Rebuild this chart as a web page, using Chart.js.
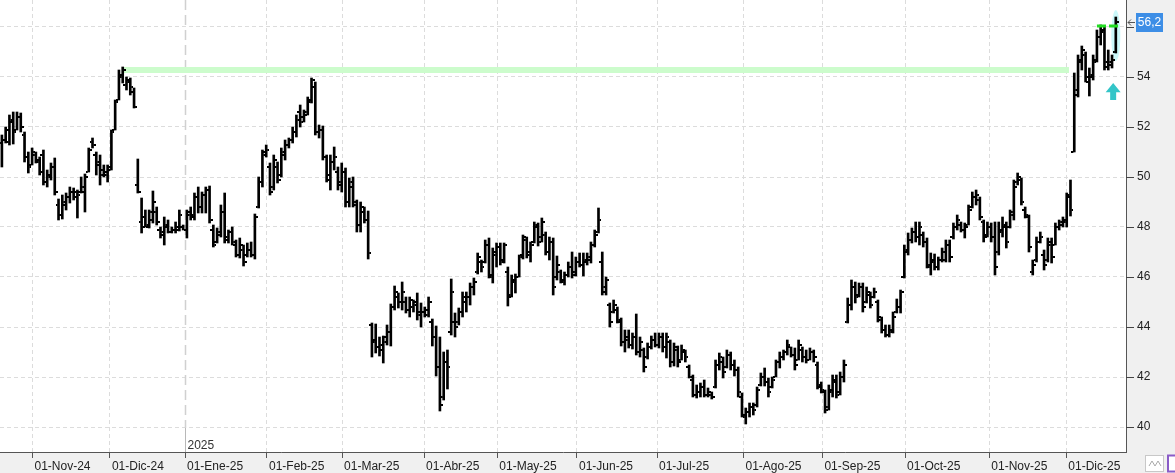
<!DOCTYPE html>
<html>
<head>
<meta charset="utf-8">
<script src="https://cdn.jsdelivr.net/npm/chart.js@4/dist/chart.umd.min.js"></script>
<style>
  html, body { margin: 0; padding: 0; background: #f0f0f0; }
  #wrap { width: 1175px; height: 473px; }
</style>
</head>
<body>
<div id="wrap"><canvas id="chart" width="1175" height="473"></canvas></div>
<script>
// daily OHLC, one entry per trading day (index 0 = 22-Oct-24)
const highs = [
  51.68,52.00,52.48,52.60,52.60,52.56,51.80,51.00,51.16,51.00,
  50.80,51.08,50.28,50.56,50.76,49.12,49.28,49.36,49.60,49.56,
  49.48,50.00,50.12,51.16,51.56,51.00,50.88,50.48,50.48,51.88,
  53.08,54.28,54.40,54.00,53.96,53.56,50.72,49.16,48.68,48.68,
  49.44,48.80,48.00,48.40,48.28,48.00,48.20,48.68,48.08,48.68,
  48.80,49.36,49.60,49.40,49.60,49.64,48.08,47.96,48.88,49.36,
  47.88,48.00,47.48,47.56,47.28,47.36,47.40,48.52,50.00,51.08,
  51.28,50.56,50.88,50.60,51.16,51.48,51.56,52.00,52.48,52.88,
  52.68,53.20,53.96,53.80,52.08,52.04,50.88,50.88,51.20,50.40,
  50.56,50.36,49.96,50.00,49.08,49.00,48.80,48.64,44.16,44.12,
  43.60,43.64,44.08,44.92,45.64,45.36,45.80,45.20,45.20,45.08,
  45.36,44.96,44.80,45.20,44.32,44.04,43.60,43.00,43.08,45.92,
  44.56,44.76,45.40,45.40,45.76,45.96,46.96,46.68,47.48,47.56,
  47.16,47.36,47.36,47.36,46.40,46.08,46.12,46.88,47.68,47.60,
  47.40,48.20,48.16,48.36,47.80,47.60,47.56,46.84,46.28,46.20,
  46.60,47.00,46.80,46.96,46.96,46.96,47.40,47.88,48.76,47.00,
  46.00,44.96,45.08,44.80,44.36,43.88,43.88,43.76,44.52,43.60,
  43.16,43.36,43.64,43.76,43.76,43.76,43.76,43.48,43.36,43.24,
  43.28,43.08,42.48,42.08,41.68,41.76,41.88,41.56,41.40,42.68,
  42.96,42.80,43.08,43.00,42.68,42.40,41.36,40.76,40.96,40.96,
  41.60,42.16,42.36,41.96,42.00,42.68,43.00,43.08,43.48,43.20,
  43.16,43.48,43.20,43.08,43.16,43.08,42.60,41.80,41.48,41.68,
  42.08,42.08,42.20,42.68,45.16,45.88,45.80,45.76,45.76,45.60,
  45.40,45.56,45.08,44.40,44.08,44.08,44.60,45.12,45.48,47.28,
  47.76,47.96,48.20,48.20,47.80,47.56,46.96,46.92,46.80,47.16,
  47.48,47.48,48.16,48.48,48.20,48.16,48.88,49.40,49.48,49.20,
  48.28,48.20,48.16,48.20,48.20,48.40,48.20,48.68,49.88,50.16,
  49.96,48.80,48.48,46.68,47.60,47.80,47.08,47.56,47.56,48.16,
  48.28,48.40,49.36,49.88,54.16,54.88,55.24,55.00,54.36,54.88,
  55.88,56.08,56.00,55.08,54.88,56.40
];
const lows = [
  50.40,51.36,51.28,51.32,51.88,51.80,50.60,50.16,50.48,50.56,
  50.08,49.68,49.60,49.88,49.28,48.28,48.32,48.68,48.96,49.08,
  48.36,49.36,48.60,50.20,51.16,50.08,49.68,50.00,49.80,50.28,
  51.88,53.08,53.76,53.48,53.28,52.76,49.36,47.76,48.00,47.96,
  48.16,48.08,47.56,47.28,47.76,47.76,47.76,47.84,47.88,47.56,
  48.28,48.28,48.56,48.56,48.56,48.16,47.20,47.36,47.60,47.36,
  47.36,47.28,46.80,46.76,46.44,46.80,46.80,46.72,48.76,49.60,
  50.80,49.28,49.48,49.76,50.00,50.68,51.16,51.36,51.60,52.00,
  52.20,52.48,52.96,51.68,51.56,50.68,49.80,49.48,50.28,49.48,
  49.40,48.80,48.80,48.80,47.80,47.80,48.16,46.72,42.80,42.96,
  42.84,42.56,43.28,43.24,44.68,44.76,44.68,44.56,44.40,44.60,
  44.28,44.00,44.40,44.40,43.24,42.04,40.64,41.08,41.52,43.68,
  43.60,44.08,44.40,44.60,44.88,45.28,46.12,46.20,46.56,45.96,
  45.76,46.40,46.48,46.56,44.84,45.20,45.36,46.00,46.72,46.76,
  46.60,47.36,47.24,47.40,46.88,46.68,45.28,45.88,45.76,45.68,
  46.00,45.96,46.04,46.40,46.04,46.48,46.56,47.20,47.76,45.28,
  45.28,44.00,44.56,44.16,43.24,43.00,43.16,43.12,42.88,42.80,
  42.20,42.72,43.12,43.20,43.16,43.00,42.76,42.40,42.44,42.40,
  42.68,42.60,41.96,41.20,41.16,41.20,41.20,41.20,41.12,41.56,
  42.28,41.96,42.36,42.28,42.04,41.20,40.40,40.12,40.40,40.48,
  40.80,41.64,41.64,41.20,41.56,42.00,42.36,42.68,42.88,42.80,
  42.28,42.68,42.60,42.56,42.68,42.60,41.52,41.36,40.56,40.68,
  41.20,41.16,41.28,41.80,44.16,44.68,44.96,45.20,44.60,44.96,
  44.76,45.16,44.20,43.76,43.60,43.60,43.76,44.56,44.56,45.96,
  46.88,47.36,47.40,47.28,47.20,46.36,46.08,46.28,46.28,46.60,
  46.60,46.60,47.52,47.88,47.80,47.56,48.08,48.76,48.88,48.28,
  47.40,47.60,47.40,46.08,46.88,47.60,47.16,47.96,48.28,49.68,
  48.88,48.36,47.00,46.08,46.60,47.36,46.28,46.60,46.56,47.28,
  47.88,48.00,48.00,48.44,51.00,53.20,54.28,53.80,53.24,53.88,
  54.60,55.28,54.28,54.28,54.36,54.96
];
const opens = [
  51.36,51.50,51.40,52.20,51.90,52.40,51.70,50.80,50.50,50.90,
  50.60,50.90,49.80,50.10,50.40,48.90,48.50,48.90,49.20,49.40,
  49.40,49.40,49.40,50.20,51.40,50.90,50.50,50.30,50.10,50.30,
  51.90,53.10,54.00,53.70,53.90,53.40,49.70,48.20,48.40,48.00,
  48.30,48.60,47.90,47.70,48.00,47.80,47.90,47.90,48.00,47.90,
  48.50,48.50,49.20,48.80,49.30,49.50,47.90,47.40,47.70,48.60,
  47.60,47.80,47.30,46.90,47.10,46.90,47.10,46.90,48.80,49.80,
  51.00,50.40,49.60,50.40,50.10,50.90,51.30,51.50,51.80,52.60,
  52.40,52.60,53.00,53.60,51.80,51.90,50.80,49.90,50.60,50.20,
  49.80,50.20,49.00,49.60,48.90,48.10,48.60,48.30,44.10,43.40,
  43.20,43.10,43.60,43.80,44.80,45.20,45.00,45.00,44.70,44.80,
  45.00,44.60,44.60,44.50,44.20,43.60,42.40,41.20,42.60,43.80,
  44.20,44.20,44.60,45.00,45.20,45.60,46.20,46.60,46.60,47.30,
  46.00,46.90,47.20,46.70,46.20,45.30,45.80,46.00,46.90,47.50,
  46.90,47.40,48.00,47.60,47.70,47.00,47.40,46.00,46.20,45.80,
  46.10,46.40,46.20,46.60,46.50,46.60,46.70,47.30,47.80,46.60,
  45.40,44.90,44.60,44.70,44.20,43.40,43.50,43.30,43.60,43.00,
  43.10,42.80,43.20,43.50,43.30,43.60,43.20,43.40,42.60,43.10,
  42.70,43.00,42.40,41.90,41.30,41.40,41.60,41.30,41.30,41.60,
  42.50,42.60,42.40,42.90,42.50,42.30,41.20,40.40,40.60,40.80,
  40.90,41.70,42.00,41.80,41.60,42.00,42.60,42.80,43.00,43.20,
  42.90,42.70,43.10,42.80,42.70,43.00,42.50,41.60,41.40,40.80,
  41.40,41.90,41.40,42.00,44.20,44.90,45.60,45.30,45.60,45.00,
  45.30,45.20,45.00,44.30,43.90,43.70,43.90,44.60,44.80,46.00,
  47.00,47.50,47.80,47.60,47.70,47.40,46.40,46.60,46.40,46.70,
  46.70,47.30,47.60,48.00,48.10,47.90,48.10,48.80,49.20,49.10,
  48.20,47.70,48.00,47.60,47.00,47.80,48.00,48.00,48.60,49.80,
  49.90,48.70,48.40,46.20,46.70,47.40,46.90,46.70,47.30,47.30,
  48.00,48.10,48.20,49.30,51.00,53.30,54.60,54.90,53.80,54.00,
  54.70,55.60,55.80,54.40,54.50,55.00
];
const closes = [
  51.50,51.90,52.30,51.80,52.40,52.00,50.80,50.40,51.00,50.70,
  50.20,49.80,50.00,50.40,49.40,48.50,49.00,49.20,49.40,49.20,
  49.30,49.60,50.00,51.10,51.30,50.60,50.10,50.20,50.40,51.80,
  53.00,54.10,54.30,53.80,53.60,52.80,49.40,48.00,48.10,48.60,
  49.00,48.20,47.80,48.10,47.80,47.90,48.00,48.50,47.90,48.60,
  48.40,49.20,48.80,49.30,49.50,48.30,47.30,47.80,48.60,47.50,
  47.80,47.40,46.90,47.30,46.60,47.10,46.90,48.40,49.80,50.90,
  51.10,49.40,50.70,49.90,51.00,51.30,51.50,51.80,52.30,52.20,
  52.50,53.10,53.90,51.80,51.90,50.80,50.10,50.60,50.80,49.70,
  50.20,49.00,49.80,49.00,48.10,48.80,48.30,46.96,43.50,43.20,
  43.30,43.40,43.80,44.80,45.40,45.00,45.40,44.70,45.10,44.90,
  44.50,44.60,44.70,45.00,43.60,42.40,40.90,42.60,42.40,45.40,
  44.00,44.60,45.20,45.20,45.60,45.80,46.80,46.40,47.30,46.10,
  47.00,47.20,46.60,47.30,45.20,45.90,46.00,46.80,47.60,47.00,
  47.30,48.10,47.40,48.20,47.00,47.40,45.60,46.50,45.90,46.10,
  46.40,46.10,46.60,46.50,46.70,46.80,47.30,47.70,48.30,45.60,
  45.90,44.20,44.90,44.30,43.40,43.60,43.30,43.60,43.00,43.40,
  42.40,43.20,43.50,43.30,43.60,43.20,43.60,42.60,43.20,42.60,
  43.10,42.80,42.00,41.30,41.40,41.60,41.30,41.40,41.20,42.50,
  42.80,42.20,42.90,42.50,42.30,41.40,40.50,40.60,40.80,40.70,
  41.50,42.00,41.80,41.40,41.90,42.60,42.80,43.00,43.30,42.90,
  42.50,43.30,42.80,42.70,43.00,42.80,41.70,41.50,40.70,41.50,
  41.80,41.30,42.00,42.50,44.90,45.60,45.20,45.60,44.80,45.40,
  44.90,45.40,44.40,43.90,43.70,43.80,44.40,44.80,45.40,47.10,
  47.50,47.80,47.60,48.00,47.40,46.50,46.70,46.40,46.70,47.00,
  47.30,46.80,48.00,48.30,47.90,48.00,48.70,49.20,49.30,48.40,
  47.60,48.00,47.60,46.40,47.90,48.10,47.40,48.50,49.60,50.00,
  49.00,48.50,47.20,46.50,47.40,47.60,46.50,47.40,46.80,48.00,
  48.20,48.30,49.20,48.70,53.48,54.70,55.10,54.00,54.10,54.60,
  55.60,55.90,54.60,54.60,54.70,56.20
];

// x-axis: month labels and where each month starts (in trading-day index units)
const monthLabels = ['01-Nov-24','01-Dic-24','01-Ene-25','01-Feb-25','01-Mar-25','01-Abr-25','01-May-25',
                     '01-Jun-25','01-Jul-25','01-Ago-25','01-Sep-25','01-Oct-25','01-Nov-25','01-Dic-25'];
const monthTickPos = [8.1, 28.6, 48.5, 70.2, 90.1, 111.8, 131.2, 152.3, 173.5, 196.4, 217.3, 239.2, 261.5, 281.9];
const yearLabel = '2025';
const yearTickIndex = 2;

// y-axis: labelled levels, minor tick step
const yLabelValues = [40, 42, 44, 46, 48, 50, 52, 54, 56];
const yMinorStep = 0.4;

// drawn objects
const resistance = { level: 54.28, from: 32, to: 282.6 };
const targetSegs = [ { level: 56.04, from: 290.0, to: 292.4 }, { level: 56.04, from: 293.2, to: 295.6 } ];
const lastPrice = 56.2;
const lastPriceText = '56,2';
const signal = { index: 294.3, top: 53.76, bottom: 53.08 };

const FONT = "'Liberation Sans', Arial, sans-serif";
Chart.defaults.font.family = FONT;
Chart.defaults.font.size = 12;
Chart.defaults.color = '#222';

function tickImage(side) {
  const c = document.createElement('canvas');
  c.width = 6; c.height = 2;
  const g = c.getContext('2d');
  g.fillStyle = '#000';
  g.fillRect(side === 'open' ? 0 : 4, 0, 2, 2);
  return c;
}

const bgPlugin = {
  id: 'bg',
  beforeDraw(chart) {
    const { ctx, chartArea: a } = chart;
    ctx.save();
    ctx.fillStyle = '#f0f0f0';
    ctx.fillRect(0, 0, chart.width, chart.height);
    ctx.fillStyle = '#ffffff';
    ctx.fillRect(a.left, a.top, a.right - a.left, a.bottom - a.top);
    ctx.restore();
  }
};

const markPlugin = {
  id: 'marks',
  beforeDatasetsDraw(chart) {
    const { ctx, chartArea: a, scales: { x, y } } = chart;
    ctx.save();
    // year separator
    const yx = Math.round(x.getPixelForValue(monthTickPos[yearTickIndex])) + 0.5;
    ctx.strokeStyle = '#d0d0d0';
    ctx.lineWidth = 1.5;
    ctx.setLineDash([10, 5]);
    ctx.beginPath(); ctx.moveTo(yx, a.top); ctx.lineTo(yx, a.bottom - 24); ctx.stroke();
    ctx.setLineDash([]);
    ctx.strokeStyle = '#b8b8b8';
    ctx.lineWidth = 1;
    ctx.beginPath(); ctx.moveTo(yx, a.bottom - 24); ctx.lineTo(yx, a.bottom); ctx.stroke();
    ctx.fillStyle = '#333';
    ctx.font = '12px ' + FONT;
    ctx.textBaseline = 'alphabetic';
    ctx.fillText(yearLabel, yx + 2, a.bottom - 3);
    // highlight round the last bar
    const last = highs.length - 1;
    const lx = x.getPixelForValue(last);
    const t = y.getPixelForValue(highs[last]) - 7, b = y.getPixelForValue(lows[last]) + 8;
    ctx.fillStyle = 'rgba(200,248,250,0.95)';
    ctx.beginPath();
    ctx.ellipse(lx, (t + b) / 2, 4.5, (b - t) / 2, 0, 0, Math.PI * 2);
    ctx.fill();
    ctx.restore();
  },
  afterDraw(chart) {
    const { ctx, chartArea: a, scales: { x, y } } = chart;
    ctx.save();
    // y minor / major tick marks
    ctx.strokeStyle = '#444';
    ctx.lineWidth = 1;
    for (const tk of y.ticks) {
      const py = Math.round(y.getPixelForValue(tk.value)) + 0.5;
      const major = yLabelValues.includes(Math.round(tk.value * 10) / 10);
      ctx.beginPath(); ctx.moveTo(a.right, py); ctx.lineTo(a.right + (major ? 8 : 5), py); ctx.stroke();
    }
    // signal arrow
    const ax = x.getPixelForValue(signal.index);
    const at = y.getPixelForValue(signal.top), ab = y.getPixelForValue(signal.bottom);
    const mid = at + (ab - at) * 0.55;
    ctx.fillStyle = '#33c5c8';
    ctx.beginPath();
    ctx.moveTo(ax, at); ctx.lineTo(ax + 7.5, mid); ctx.lineTo(ax + 3, mid); ctx.lineTo(ax + 3, ab);
    ctx.lineTo(ax - 3, ab); ctx.lineTo(ax - 3, mid); ctx.lineTo(ax - 7.5, mid); ctx.closePath();
    ctx.fill();
    // last price box
    const py = y.getPixelForValue(lastPrice);
    ctx.fillStyle = '#3d8ee6';
    ctx.fillRect(a.right + 10, Math.round(py) - 9, 27, 19);
    ctx.fillStyle = '#ffffff';
    ctx.font = '12px ' + FONT;
    ctx.textAlign = 'center'; ctx.textBaseline = 'middle';
    ctx.fillText(lastPriceText, a.right + 23.5, Math.round(py) + 1);
    ctx.strokeStyle = '#555';
    ctx.beginPath();
    ctx.moveTo(a.right + 2, py + 0.5); ctx.lineTo(a.right + 9, py + 0.5);
    ctx.moveTo(a.right + 5, py - 2.5); ctx.lineTo(a.right + 2, py + 0.5); ctx.lineTo(a.right + 5, py + 3.5);
    ctx.stroke();
    // corner buttons
    ctx.fillStyle = '#fff'; ctx.strokeStyle = '#c8c8c8';
    ctx.fillRect(1145.5, 455.5, 18, 16); ctx.strokeRect(1145.5, 455.5, 18, 16);
    ctx.strokeStyle = '#aaa';
    ctx.beginPath(); ctx.moveTo(1149, 466); ctx.lineTo(1152, 461); ctx.lineTo(1155, 466); ctx.lineTo(1158, 461); ctx.lineTo(1161, 466); ctx.stroke();
    ctx.fillStyle = '#fff'; ctx.strokeStyle = '#8a5cc8'; ctx.lineWidth = 2;
    ctx.fillRect(1168, 455.5, 10, 16); ctx.strokeRect(1168, 455.5, 10, 16);
    ctx.restore();
  }
};

const data = {
  datasets: [
    {
      type: 'scatter', label: 'open',
      data: opens.map((v, i) => ({ x: i, y: v })),
      pointStyle: tickImage('open'), order: 0
    },
    {
      type: 'scatter', label: 'close',
      data: closes.map((v, i) => ({ x: i, y: v })),
      pointStyle: tickImage('close'), order: 0
    },
    ...targetSegs.map(s => ({
      type: 'line', label: 'target',
      data: [{ x: s.from, y: s.level }, { x: s.to, y: s.level }],
      borderColor: '#22dd22', borderWidth: 3, pointRadius: 0, order: -1
    })),
    {
      type: 'bar', label: 'range',
      data: highs.map((h, i) => ({ x: i, y: [lows[i], h] })),
      backgroundColor: '#000', borderWidth: 0, barThickness: 2, order: 1
    },
    {
      type: 'line', label: 'resistance',
      data: [{ x: resistance.from, y: resistance.level }, { x: resistance.to, y: resistance.level }],
      borderColor: '#ccfccc', borderWidth: 6, pointRadius: 0, order: 5
    }
  ]
};

const config = {
  type: 'bar',
  data: data,
  plugins: [bgPlugin, markPlugin],
  options: {
    responsive: false,
    animation: false,
    events: [],
    layout: { padding: 0, autoPadding: false },
    plugins: { legend: { display: false }, tooltip: { enabled: false } },
    scales: {
      x: {
        type: 'linear',
        min: -0.5, max: 297.7,
        offset: false,
        afterBuildTicks: axis => { axis.ticks = monthTickPos.map(v => ({ value: v })); },
        afterFit: s => { s.height = 21; s.paddingLeft = 0; s.paddingRight = 0; },
        ticks: {
          autoSkip: false, maxRotation: 0, align: 'start', labelOffset: 2, padding: 1,
          color: '#222', font: { size: 12 },
          callback: (v, i) => monthLabels[i]
        },
        grid: {
          offset: false,
          color: c => c.index === yearTickIndex ? 'rgba(0,0,0,0)' : '#dcdcdc',
          lineWidth: 1,
          tickColor: '#555', tickLength: 6, tickBorderDash: []
        },
        border: { display: true, color: '#555', width: 1, dash: [4, 3] }
      },
      y: {
        type: 'linear',
        position: 'right',
        min: 39, max: 57.08,
        afterBuildTicks: axis => {
          const t = [];
          for (let v = 39.2; v < 57.0; v += yMinorStep) t.push({ value: Math.round(v * 10) / 10 });
          axis.ticks = t;
        },
        afterFit: s => { s.width = 49; s.paddingTop = 0; s.paddingBottom = 0; },
        ticks: {
          padding: 3, color: '#222', font: { size: 12 },
          callback: v => yLabelValues.includes(Math.round(v * 10) / 10) ? String(Math.round(v)) : null
        },
        grid: { color: '#dcdcdc', lineWidth: 1, tickColor: 'rgba(0,0,0,0)', tickLength: 8, tickBorderDash: [] },
        border: { display: true, color: '#555', width: 1, dash: [4, 3] }
      }
    }
  }
};

new Chart(document.getElementById('chart'), config);
</script>
</body>
</html>
